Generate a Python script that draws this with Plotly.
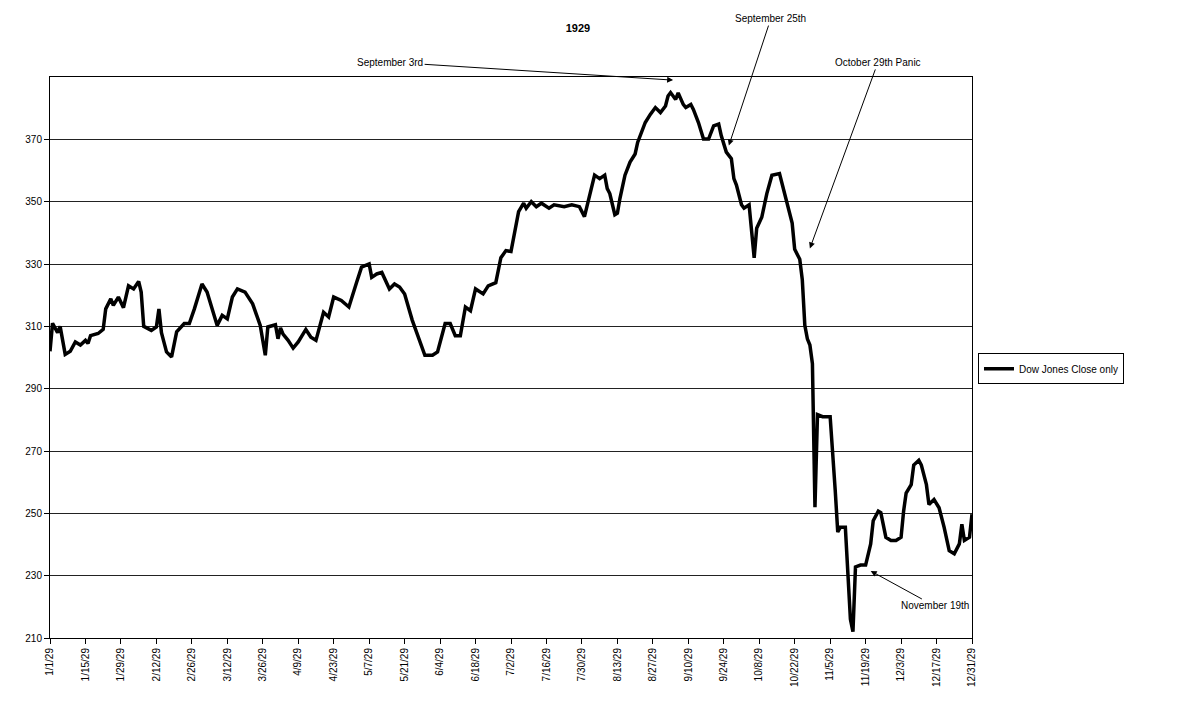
import plotly.graph_objects as go

# ---- data ----
dates = [
    "1929-01-01", "1929-01-02", "1929-01-04", "1929-01-05", "1929-01-07", "1929-01-09", "1929-01-11",
    "1929-01-13", "1929-01-15", "1929-01-16", "1929-01-17", "1929-01-20", "1929-01-22", "1929-01-23",
    "1929-01-25", "1929-01-26", "1929-01-28", "1929-01-30", "1929-02-01", "1929-02-03", "1929-02-05",
    "1929-02-06", "1929-02-07", "1929-02-10", "1929-02-12", "1929-02-13", "1929-02-14", "1929-02-16",
    "1929-02-18", "1929-02-20", "1929-02-23", "1929-02-25", "1929-02-27", "1929-03-02", "1929-03-04",
    "1929-03-07", "1929-03-08", "1929-03-10", "1929-03-12", "1929-03-14", "1929-03-16", "1929-03-19",
    "1929-03-22", "1929-03-25", "1929-03-27", "1929-03-28", "1929-03-31", "1929-04-01", "1929-04-02",
    "1929-04-03", "1929-04-05", "1929-04-07", "1929-04-09", "1929-04-12", "1929-04-14", "1929-04-16",
    "1929-04-19", "1929-04-21", "1929-04-23", "1929-04-26", "1929-04-29", "1929-05-02", "1929-05-04",
    "1929-05-07", "1929-05-08", "1929-05-10", "1929-05-12", "1929-05-15", "1929-05-17", "1929-05-19",
    "1929-05-21", "1929-05-24", "1929-05-25", "1929-05-27", "1929-05-29", "1929-06-01", "1929-06-03",
    "1929-06-06", "1929-06-08", "1929-06-10", "1929-06-12", "1929-06-14", "1929-06-16", "1929-06-18",
    "1929-06-21", "1929-06-23", "1929-06-26", "1929-06-28", "1929-06-30", "1929-07-02", "1929-07-04",
    "1929-07-05", "1929-07-07", "1929-07-08", "1929-07-10", "1929-07-12", "1929-07-14", "1929-07-17",
    "1929-07-19", "1929-07-23", "1929-07-26", "1929-07-29", "1929-07-31", "1929-08-02", "1929-08-04",
    "1929-08-06", "1929-08-08", "1929-08-09", "1929-08-10", "1929-08-12", "1929-08-13", "1929-08-14",
    "1929-08-16", "1929-08-18", "1929-08-19", "1929-08-20", "1929-08-21", "1929-08-23", "1929-08-24",
    "1929-08-26", "1929-08-28", "1929-08-30", "1929-09-01", "1929-09-02", "1929-09-03", "1929-09-05",
    "1929-09-06", "1929-09-08", "1929-09-09", "1929-09-11", "1929-09-12", "1929-09-14", "1929-09-16",
    "1929-09-18", "1929-09-20", "1929-09-22", "1929-09-23", "1929-09-25", "1929-09-27", "1929-09-28",
    "1929-09-29", "1929-10-01", "1929-10-02", "1929-10-04", "1929-10-06", "1929-10-07", "1929-10-09",
    "1929-10-11", "1929-10-13", "1929-10-16", "1929-10-17", "1929-10-19", "1929-10-21", "1929-10-22",
    "1929-10-24", "1929-10-25", "1929-10-26", "1929-10-27", "1929-10-28", "1929-10-29", "1929-10-30",
    "1929-10-31", "1929-11-02", "1929-11-05", "1929-11-06", "1929-11-07", "1929-11-08", "1929-11-09",
    "1929-11-11", "1929-11-12", "1929-11-13", "1929-11-14", "1929-11-15", "1929-11-17", "1929-11-19",
    "1929-11-21", "1929-11-22", "1929-11-24", "1929-11-25", "1929-11-27", "1929-11-29", "1929-12-01",
    "1929-12-03", "1929-12-04", "1929-12-05", "1929-12-07", "1929-12-08", "1929-12-10", "1929-12-11",
    "1929-12-13", "1929-12-14", "1929-12-16", "1929-12-18", "1929-12-20", "1929-12-22", "1929-12-24",
    "1929-12-26", "1929-12-27", "1929-12-28", "1929-12-30", "1929-12-31",
]
close = [
    302, 311, 308, 310, 301, 302, 305,
    304, 305.5, 304.5, 307, 307.7, 309, 315.6,
    318.8, 316.7, 319.4, 316, 323, 322, 324.4,
    321, 310, 308.7, 309.8, 315.6, 308, 301.8,
    300.2, 308.2, 310.9, 310.9, 315.6, 323.6, 321,
    313.5, 310.3, 313.5, 312.4, 319.4, 322, 321,
    317.2, 310.3, 300.7, 309.8, 310.5, 306, 309.5,
    307.5, 305.5, 303, 305, 309, 306.5, 305.5,
    314.5, 313, 319.4, 318.3, 316.2, 324, 329,
    330, 325.7, 326.8, 327.3, 322, 323.6, 322.6,
    320.4, 312, 309.8, 305.5, 300.7, 300.7, 301.8,
    310.9, 310.9, 307, 307, 316.2, 315, 322,
    320.4, 323, 324, 332, 334.3, 334, 343,
    346.8, 349.5, 347.9, 350, 348.4, 349.5, 347.9,
    349, 348.4, 349, 348.4, 345.2, 352.1, 358.5,
    357.4, 358.5, 354.2, 352.6, 345.8, 346.3, 351,
    358.5, 362.7, 364.3, 365.3, 369, 373.3, 375.4,
    378, 380.2, 378.6, 380.7, 383.9, 385, 382.8,
    384.9, 381.2, 380.2, 381.2, 379.6, 375.4, 370.1,
    370.1, 374.3, 374.9, 371.2, 365.9, 363.8, 357.4,
    355.3, 349, 347.9, 349, 332, 341.5, 345,
    352.6, 358.5, 359, 355.8, 348.4, 343.1, 334.7,
    331.5, 325, 310.3, 306, 304, 298, 252,
    281.7, 281, 281, 270, 257.4, 244, 245.5,
    245.5, 228.7, 216, 212, 232.8, 233.4, 233.4,
    240.2, 247.6, 250.7, 250.2, 242.3, 241.3, 241.3,
    242.3, 250.7, 256.5, 259.2, 265.5, 267, 265.5,
    259.2, 252.8, 254.4, 251.8, 245.5, 238, 237,
    240.2, 246.5, 241.3, 242.3, 249.7,
]

tick_dates = [
    "1929-01-01", "1929-01-15", "1929-01-29", "1929-02-12", "1929-02-26", "1929-03-12", "1929-03-26",
    "1929-04-09", "1929-04-23", "1929-05-07", "1929-05-21", "1929-06-04", "1929-06-18", "1929-07-02",
    "1929-07-16", "1929-07-30", "1929-08-13", "1929-08-27", "1929-09-10", "1929-09-24", "1929-10-08",
    "1929-10-22", "1929-11-05", "1929-11-19", "1929-12-03", "1929-12-17", "1929-12-31",
]
tick_labels = [
    "1/1/29", "1/15/29", "1/29/29", "2/12/29", "2/26/29", "3/12/29", "3/26/29",
    "4/9/29", "4/23/29", "5/7/29", "5/21/29", "6/4/29", "6/18/29", "7/2/29",
    "7/16/29", "7/30/29", "8/13/29", "8/27/29", "9/10/29", "9/24/29", "10/8/29",
    "10/22/29", "11/5/29", "11/19/29", "12/3/29", "12/17/29", "12/31/29",
]
y_ticks = [210, 230, 250, 270, 290, 310, 330, 350, 370]

FONT = "Liberation Sans, Arial, sans-serif"
W, H = 1175, 709

fig = go.Figure()
fig.add_trace(go.Scatter(
    x=dates, y=close, mode="lines", name="Dow Jones Close only",
    line=dict(color="black", width=3.5),
))

arrow = dict(showarrow=True, arrowhead=2, arrowsize=1.2, arrowwidth=1,
             arrowcolor="black", font=dict(family=FONT, size=10, color="black"))
fig.add_annotation(x="1929-09-04", y=389, xref="x", yref="y",
                   text="September 3rd", ax=-283, ay=-18, **arrow)
fig.add_annotation(x="1929-09-26", y=368, xref="x", yref="y",
                   text="September 25th", ax=42, ay=-127, **arrow)
fig.add_annotation(x="1929-10-28", y=335, xref="x", yref="y",
                   text="October 29th Panic", ax=68, ay=-186, **arrow)
fig.add_annotation(x="1929-11-21", y=231.5, xref="x", yref="y",
                   text="November 19th", ax=64, ay=35, **arrow)

fig.update_layout(
    width=W, height=H,
    margin=dict(l=42, r=211, t=69, b=79),
    paper_bgcolor="white", plot_bgcolor="white",
    font=dict(family=FONT, size=10, color="black"),
    title=dict(text="<b>1929</b>", x=570 / W, xanchor="center",
               y=1 - 20 / H, yanchor="middle",
               font=dict(family=FONT, size=11, color="black")),
    showlegend=True,
    legend=dict(x=1.0065, y=0.48, xanchor="left", yanchor="middle",
                bordercolor="black", borderwidth=1, bgcolor="white",
                font=dict(family=FONT, size=10, color="black"),
                itemwidth=30, tracegroupgap=0),
)
fig.update_xaxes(
    type="date", range=["1929-01-01", "1929-12-31"],
    tickmode="array", tickvals=tick_dates, ticktext=tick_labels,
    tickangle=-90, ticks="outside", ticklen=5, tickcolor="black",
    tickfont=dict(family=FONT, size=10, color="black"),
    showgrid=False, showline=True, linecolor="black", linewidth=1,
    mirror=True, zeroline=False,
)
fig.update_yaxes(
    range=[210, 390], tickmode="array", tickvals=y_ticks,
    ticks="outside", ticklen=5, tickcolor="black",
    tickfont=dict(family=FONT, size=10, color="black"),
    showgrid=True, gridcolor="#222222", gridwidth=1,
    showline=True, linecolor="black", linewidth=1, mirror=True,
    zeroline=False,
)

fig.write_html("out.html")
